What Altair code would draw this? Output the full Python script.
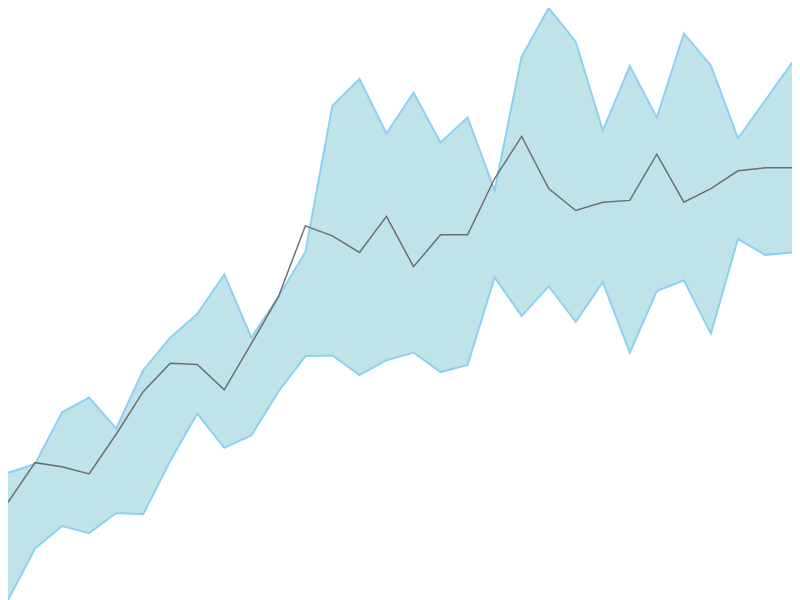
import altair as alt
import pandas as pd

idx = list(range(30))
upper = [21.5, 23.0, 31.7, 34.2, 29.0, 38.8, 44.3, 48.3, 55.0, 44.3,
         51.2, 58.8, 83.5, 88.0, 78.8, 85.7, 77.3, 81.5, 69.2, 91.8,
         100.0, 94.3, 79.3, 90.2, 81.5, 95.7, 90.3, 78.0, 84.3, 90.8]
mid = [16.5, 23.2, 22.5, 21.3, 28.0, 35.2, 40.0, 39.8, 35.5, 43.3,
       51.2, 63.2, 61.5, 58.7, 64.8, 56.3, 61.7, 61.7, 71.2, 78.3,
       69.5, 65.8, 67.2, 67.5, 75.3, 67.2, 69.5, 72.5, 73.0, 73.0]
lower = [0.0, 8.7, 12.5, 11.3, 14.7, 14.5, 23.5, 31.5, 25.7, 27.8,
         35.2, 41.2, 41.3, 38.0, 40.5, 41.8, 38.5, 39.7, 54.5, 48.0,
         53.0, 47.0, 53.7, 41.8, 52.2, 54.0, 45.0, 61.0, 58.3, 58.7]

df = pd.DataFrame({"i": idx, "upper": upper, "mid": mid, "lower": lower})

xs = alt.Scale(domain=[0, 29], nice=False, zero=False)
ys = alt.Scale(domain=[0, 100], nice=False, zero=False)

base = alt.Chart(df)
area = base.mark_area(color="#bee4e9", opacity=1).encode(
    x=alt.X("i:Q", scale=xs, axis=None),
    y=alt.Y("lower:Q", scale=ys, axis=None),
    y2="upper:Q",
)
up_line = base.mark_line(color="#8fd0f2", strokeWidth=2).encode(
    x=alt.X("i:Q", scale=xs, axis=None),
    y=alt.Y("upper:Q", scale=ys, axis=None),
)
lo_line = base.mark_line(color="#8fd0f2", strokeWidth=2).encode(
    x=alt.X("i:Q", scale=xs, axis=None),
    y=alt.Y("lower:Q", scale=ys, axis=None),
)
mid_line = base.mark_line(color="#6e6e6e", strokeWidth=1.5).encode(
    x=alt.X("i:Q", scale=xs, axis=None),
    y=alt.Y("mid:Q", scale=ys, axis=None),
)

chart = alt.layer(area, up_line, lo_line, mid_line).properties(
    width=784, height=592, padding=0, autosize="none"
).configure_view(stroke=None)

chart.save("out.html", embed_options={"renderer": "svg", "actions": False})
